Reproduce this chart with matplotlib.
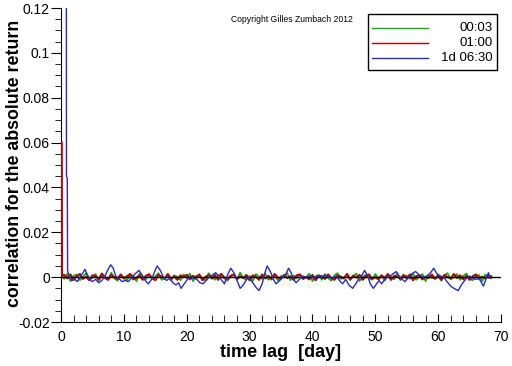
import numpy as np
import matplotlib
matplotlib.use('Agg')
import matplotlib.pyplot as plt
from matplotlib.ticker import MultipleLocator, FuncFormatter
from matplotlib.patches import Rectangle
from matplotlib.lines import Line2D

plt.rcParams['font.family'] = ['Liberation Sans', 'DejaVu Sans']

# series labels and colours
labels = ['00:03', '01:00', '1d 06:30']
colors = ['#00b400', '#c00000', '#2a2ac8']

# noise lags (days) for the two short lags, sampled every half day
noise_step = 0.5
noise_unit = 2e-4

# 00:03 lag, in units of noise_unit
green_n = [6,
    -4, 8, -9, 3, 6, -7, 1, 9, -5, -2, 7, -8, 4, 2, -6, 10, -3, -8, 5, 0,
    -7, 6, 3, -9, 8, -1, -5, 7, -4, 2, 9, -6, -3, 5, -8, 4, 1, -7, 6, -2,
    8, -9, 3, 5, -4, -7, 9, 0, -6, 4, 7, -3, -8, 2, 6, -5, 10, -2, -6, 3,
    -9, 7, 1, -4, 8, -6, 2, 5, -8, 3, -1, 9, -7, 4, -3, 6, -5, 0, 8, -9,
    2, 5, -6, 7, -2, -8, 4, 9, -4, -1, 6, -7, 3, 8, -9, 1, 5, -3, -6, 7,
    -2, 4, -8, 6, 0, -5, 9, -7, 2, 3, -4, 8, -6, 1, 7, -9, 5, -2, -3, 6,
    -8, 4, 9, -5, -1, 7, -6, 3, 8, -4, -7, 2, 5, -9, 6, -2, 3]

# 01:00 lag: spike near the origin, then noise (units of noise_unit)
red_head_lag = [0.12, 0.16]
red_head_n = [300, 3]
red_n = [
    5, -3, 6, -6, 2, 7, -4, 1, -7, 4, 3, -5, 8, -2, -6, 5, 0, -4, 6, -3,
    2, 7, -5, -1, 4, -6, 3, 6, -2, -7, 5, 1, -3, 7, -4, 2, -6, 4, 0, 5,
    -5, 3, -2, 6, -7, 1, 4, -3, 5, -6, 7, -1, -4, 3, 6, -5, 2, -2, 5, -7,
    4, 1, -6, 6, -3, 3, -5, 7, -1, -4, 5, -2, 2, -6, 4, 6, -3, 0, -5, 5,
    -7, 3, 2, -4, 6, -2, -6, 4, 1, -3, 7, -5, 3, -1, 5, -6, 2, 6, -4, 0,
    -5, 4, -2, 7, -6, 3, 1, -4, 5, -3, 6, -7, 2, 4, -5, 1, -2, 6, -4, 3,
    -6, 5, 0, -3, 7, -2, 4, -5, 3, -6, 2, 6, -4, 1, -3, 5, -1]

# 1d 06:30 lag (lag in days, value in units of 1e-3)
blue_lag = [0.85, 0.87, 1.0, 1.05, 1.3, 1.7, 2.2, 2.6, 3.0, 3.5, 3.8, 4.2, 4.6,
            5.0, 5.5, 6.0, 6.5, 7.0, 7.5, 7.9, 8.3, 8.7, 9.2, 9.7, 10.2, 10.7,
            11.2, 11.8, 12.4, 12.9, 13.4, 13.9, 14.4, 14.9, 15.3, 15.8, 16.3,
            16.8, 17.3, 17.8, 18.3, 18.7, 19.1, 19.6, 20.1, 20.6, 21.1, 21.6,
            22.1, 22.6, 23.1, 23.6, 24.1, 24.6, 25.1, 25.6, 26.0, 26.5, 27.0,
            27.5, 28.0, 28.5, 29.0, 29.5, 29.9, 30.4, 31.0, 31.5, 32.0, 32.4,
            32.8, 33.3, 33.8, 34.2, 34.8, 35.3, 35.8, 36.2, 36.6, 37.0, 37.4,
            37.9, 38.5, 39.0, 39.6, 40.2, 40.8, 41.4, 42.0, 42.6, 43.2, 43.8,
            44.3, 44.8, 45.3, 45.8, 46.4, 46.9, 47.4, 47.9, 48.3, 48.8, 49.2,
            49.7, 50.2, 50.6, 51.0, 51.5, 52.0, 52.6, 53.3, 53.8, 54.3, 54.7,
            55.2, 55.8, 56.4, 57.0, 57.6, 58.2, 58.8, 59.3, 59.8, 60.4, 60.9,
            61.4, 62.0, 62.5, 63.2, 63.8, 64.5, 65.0, 65.5, 66.0, 66.5, 66.9,
            67.2, 67.6, 68.0, 68.3]
blue_e3 = [130, 45, 44, 3.0, 0.5, -1.5, -1.0, -2.0, 0.0, 2.0, 3.5, 1.0, -1.0,
           -2.0, -1.0, -2.5, -1.5, 0.5, 3.5, 5.5, 4.0, 0.5, -0.5, -2.0, -1.5,
           -2.0, -0.5, 1.5, 3.0, 1.0, -1.5, -3.0, -1.0, 2.5, 5.0, 3.0, 0.0,
           -1.5, -0.5, -2.5, -3.5, -2.5, -5.0, -3.0, -1.0, 0.5, -0.5, -1.0,
           -2.5, -3.0, -1.5, 0.0, 1.0, 2.0, 0.5, -1.5, -3.0, 1.0, 4.0, 2.0,
           -1.5, -5.0, -3.5, -1.0, 0.0, -2.0, -4.5, -6.0, -3.0, 1.5, 5.0, 2.5,
           -1.0, -3.0, -1.5, 0.0, 1.5, 4.0, 2.0, -1.0, -2.5, -1.0, 0.5, 0.0,
           0.5, -0.5, 0.5, 0.0, 1.0, 0.0, -0.5, 0.5, -1.5, -3.0, -1.0, -3.5,
           -5.0, -3.0, -0.5, 1.0, 3.0, 0.5, -3.0, -5.0, -3.0, -1.5, -3.0, -1.0,
           0.0, 1.0, 2.5, 0.5, -1.0, -2.0, -0.5, 1.5, 2.5, 1.0, 0.0, 0.5, 2.0,
           4.0, 1.5, 0.5, 0.0, -2.0, -4.0, -5.0, -6.0, -3.0, -0.5, 0.5, -0.5,
           -1.0, -0.5, -2.5, -4.0, -1.0, 2.0, -0.5]

green_lag = np.arange(len(green_n)) * noise_step
red_lag = np.concatenate([red_head_lag, (np.arange(len(red_n)) + 1) * noise_step])
red_val = np.array(red_head_n + red_n) * noise_unit

fig = plt.figure(figsize=(5.12, 3.66), dpi=100)
ax = fig.add_axes([61 / 512, 1 - 322 / 366, 440 / 512, 314 / 366])

ax.plot(green_lag, np.array(green_n) * noise_unit, color=colors[0], lw=1.2)
ax.plot(red_lag, red_val, color=colors[1], lw=1.5, zorder=3)
ax.axhline(0, color='black', lw=1, zorder=3)
ax.plot(blue_lag, np.array(blue_e3) * 1e-3, color=colors[2], lw=1, zorder=3)

ax.set_xlim(0, 70)
ax.set_ylim(-0.02, 0.12)
ax.spines['top'].set_visible(False)
ax.spines['right'].set_visible(False)
ax.xaxis.set_major_locator(MultipleLocator(10))
ax.xaxis.set_minor_locator(MultipleLocator(2))
ax.yaxis.set_major_locator(MultipleLocator(0.02))
ax.yaxis.set_minor_locator(MultipleLocator(0.005))
ax.yaxis.set_major_formatter(FuncFormatter(lambda v, p: '%g' % round(v, 4)))
ax.tick_params(axis='x', which='major', direction='in', length=6, labelsize=10, pad=6)
ax.tick_params(axis='x', which='minor', direction='in', length=5)
ax.tick_params(axis='y', which='major', direction='out', length=7, labelsize=10, pad=1)
ax.tick_params(axis='y', which='minor', direction='out', length=4)
ax.set_xlabel('time lag  [day]', fontsize=13, fontweight='bold', labelpad=0)
ax.set_ylabel('correlation for the absolute return', fontsize=12.8, fontweight='bold')
ax.yaxis.set_label_coords(-0.086, 0.505)

# copyright note
fig.text(231 / 512, 1 - 19 / 366, 'Copyright Gilles Zumbach 2012', fontsize=6.2, va='center')

# legend box with right aligned labels
tf = fig.transFigure
fig.patches.append(Rectangle((368 / 512, 1 - 70 / 366), 129 / 512, 56 / 366,
                             transform=tf, fill=False, edgecolor='black', lw=1))
for i, (lab, col) in enumerate(zip(labels, colors)):
    yy = 1 - (28 + 15 * i) / 366
    fig.lines.append(Line2D([372 / 512, 428 / 512], [yy, yy], transform=tf, color=col, lw=1))
    fig.text(493 / 512, yy, lab, fontsize=9.5, ha='right', va='center')

fig.savefig('out.png', dpi=100)
